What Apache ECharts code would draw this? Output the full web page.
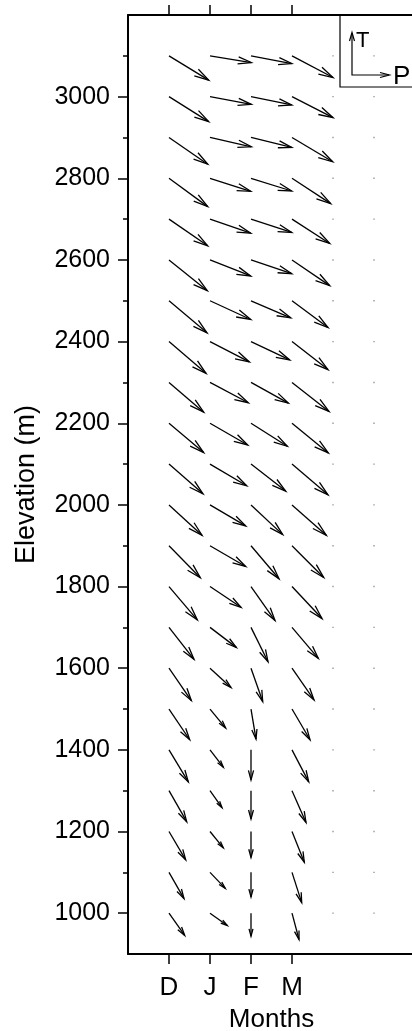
<!DOCTYPE html>
<html>
<head>
<meta charset="utf-8">
<script src="https://cdn.jsdelivr.net/npm/echarts@6/dist/echarts.min.js"></script>
<style>html,body{margin:0;padding:0;background:#fff}#c{width:412px;height:1031px}</style>
</head>
<body>
<div id="c"></div>
<script>
// Elevation rows (top to bottom)
const ELEVATIONS = [3100,3000,2900,2800,2700,2600,2500,2400,2300,2200,2100,2000,1900,1800,1700,1600,1500,1400,1300,1200,1100,1000];
// Month columns shown with labels
const MONTHS = ['D','J','F','M'];
// Additional (unlabelled) columns with zero vectors
const EXTRA_COLS = [5,6];
// Vector components (P = horizontal, T = vertical) (41 units = one month spacing)
const D_P = [39.7,39.7,38.7,38.7,38.7,38.3,38,37,34.7,34.7,34,33,31.3,28.3,25,22.3,20.7,19.3,17.7,16.7,15,15.7];
const D_T = [-24.3,-25,-26.7,-28.3,-26.7,-30.7,-32,-31.7,-29.7,-29.3,-29.7,-30.3,-32,-33.3,-32,-32.3,-30.7,-32,-31,-28.3,-26.3,-22.3];
const J_P = [41.3,41.3,41.3,40.7,40.7,40.7,40.7,39.3,38.3,37.7,36.7,35.7,35.7,31,26.3,21,15.7,13.3,12,13.3,15.3,17.3];
const J_T = [-6.7,-7.7,-9.3,-13,-14,-16,-18.7,-20.3,-20.3,-21.7,-21.7,-21,-20.7,-20.7,-20,-19.3,-19,-17.3,-17,-16.3,-16,-12.3];
const F_P = [40.7,40.7,40.7,40.7,40.7,40.7,39.7,38.7,37.3,36.3,34.7,31.7,28,24,17,11.7,5,0,0,0,0,0];
const F_T = [-7.7,-8.3,-10,-12.7,-13.3,-13.7,-17,-18.3,-20.7,-23,-27,-29.7,-33,-34,-34.3,-33.3,-30,-30,-28.3,-26,-24.7,-23];
const M_P = [41,41,40.7,38.7,37.7,37.7,36,36,37,36.3,36,34.3,31.7,30,26.3,22,18,16.7,14,12.3,9.7,7];
const M_T = [-21.7,-21,-24.3,-25.3,-24.3,-25.7,-26.7,-28,-29,-29.7,-30.7,-30.3,-31.7,-32,-31,-31.7,-30.7,-32,-31.7,-30.7,-30.3,-26.3];
const ZERO = [0,0,0,0,0,0,0,0,0,0,0,0,0,0,0,0,0,0,0,0,0,0];
// Axis tick values
const Y_LABEL_TICKS = [1000,1200,1400,1600,1800,2000,2200,2400,2600,2800,3000];
const Y_MINOR_TICKS = [1100,1300,1500,1700,1900,2100,2300,2500,2700,2900,3100];
const X_TICKS = [1,2,3,4];
const ARROW_UNIT = 41;

const cols = [[D_P,D_T],[J_P,J_T],[F_P,F_T],[M_P,M_T]];
const data = [];
cols.forEach((c, ci) => {
  ELEVATIONS.forEach((e, ri) => data.push([ci + 1, e, c[0][ri], c[1][ri]]));
});
EXTRA_COLS.forEach(x => {
  ELEVATIONS.forEach((e, ri) => data.push([x, e, ZERO[ri], ZERO[ri]]));
});

const FONT = "'Liberation Sans', Arial, Helvetica, sans-serif";
const chart = echarts.init(document.getElementById('c'), null, {renderer: 'canvas'});

function renderItem(params, api) {
  const x = api.value(0), y = api.value(1), p = api.value(2), t = api.value(3);
  const pt = api.coord([x, y]);
  const s = api.size([1, 0])[0] / ARROW_UNIT;
  const dx = p * s, dy = -t * s;
  const len = Math.hypot(dx, dy);
  if (len < 0.5) {
    return {type: 'rect', shape: {x: pt[0] - 0.7, y: pt[1] - 0.7, width: 1.4, height: 1.4}, style: {fill: '#999'}};
  }
  const ang = Math.atan2(dy, dx);
  const hl = Math.min(0.33 * len, 15);
  const a = 15 * Math.PI / 180;
  const hx = pt[0] + dx, hy = pt[1] + dy;
  const b1 = [hx - hl * Math.cos(ang - a), hy - hl * Math.sin(ang - a)];
  const b2 = [hx - hl * Math.cos(ang + a), hy - hl * Math.sin(ang + a)];
  return {
    type: 'group',
    children: [
      {type: 'line', shape: {x1: pt[0], y1: pt[1], x2: hx, y2: hy}, style: {stroke: '#000', lineWidth: 1.3}},
      {type: 'polyline', shape: {points: [b1, [hx, hy], b2]}, style: {stroke: '#000', lineWidth: 1.3, fill: null}}
    ]
  };
}

const axisLineStyle = {show: true, lineStyle: {color: '#000', width: 2}};
chart.setOption({
  animation: false,
  backgroundColor: '#fff',
  textStyle: {fontFamily: FONT},
  grid: {left: 128, top: 15, bottom: 77, width: 287, outerBoundsMode: 'none', containLabel: false},
  xAxis: [
    {
      type: 'value', min: 0, max: 7, position: 'bottom',
      axisLine: axisLineStyle,
      axisTick: {show: true, customValues: X_TICKS, length: 10, lineStyle: {color: '#000', width: 1.5}},
      axisLabel: {show: true, customValues: X_TICKS, formatter: v => MONTHS[Math.round(v) - 1] || '', fontSize: 26, color: '#000', fontFamily: FONT, margin: 21},
      splitLine: {show: false},
      name: 'Months', nameLocation: 'middle', nameGap: 53,
      nameTextStyle: {fontSize: 26, color: '#000', fontFamily: FONT}
    },
    {
      type: 'value', min: 0, max: 7, position: 'top',
      axisLine: axisLineStyle,
      axisTick: {show: true, customValues: X_TICKS, length: 10, lineStyle: {color: '#000', width: 1.5}},
      axisLabel: {show: false},
      splitLine: {show: false}
    }
  ],
  yAxis: [
    {
      type: 'value', min: 900, max: 3200, position: 'left',
      axisLine: axisLineStyle,
      axisTick: {show: true, customValues: Y_LABEL_TICKS, length: 10, lineStyle: {color: '#000', width: 1.5}},
      axisLabel: {show: true, customValues: Y_LABEL_TICKS, formatter: v => String(v), fontSize: 25, color: '#000', fontFamily: FONT, margin: 18},
      splitLine: {show: false},
      name: 'Elevation (m)', nameLocation: 'middle', nameGap: 88,
      nameTextStyle: {fontSize: 27, color: '#000', fontFamily: FONT}
    },
    {
      type: 'value', min: 900, max: 3200, position: 'left',
      axisLine: {show: false},
      axisTick: {show: true, customValues: Y_MINOR_TICKS, length: 5, lineStyle: {color: '#000', width: 1.5}},
      axisLabel: {show: false},
      splitLine: {show: false}
    }
  ],
  series: [{
    type: 'custom',
    xAxisIndex: 0, yAxisIndex: 0,
    renderItem: renderItem,
    data: data,
    clip: false
  }],
  graphic: [
    {type: 'rect', shape: {x: 340, y: 15, width: 80, height: 72}, style: {stroke: '#000', lineWidth: 1.2, fill: 'rgba(0,0,0,0)'}, z: 10},
    {type: 'polyline', shape: {points: [[352, 33], [352, 75], [389, 75]]}, style: {stroke: '#000', lineWidth: 1.2, fill: null}, z: 10},
    {type: 'polyline', shape: {points: [[349.5, 41], [352, 32.5], [354.5, 41]]}, style: {stroke: '#000', lineWidth: 1.2, fill: null}, z: 10},
    {type: 'polyline', shape: {points: [[380, 72.5], [389.5, 75], [380, 77.5]]}, style: {stroke: '#000', lineWidth: 1.2, fill: null}, z: 10},
    {type: 'text', x: 356, y: 30, style: {text: 'T', font: "22px 'Liberation Sans', Arial, sans-serif", fill: '#000'}, z: 10},
    {type: 'text', x: 393, y: 64, style: {text: 'P', font: "26px 'Liberation Sans', Arial, sans-serif", fill: '#000'}, z: 10}
  ]
});
</script>
</body>
</html>
